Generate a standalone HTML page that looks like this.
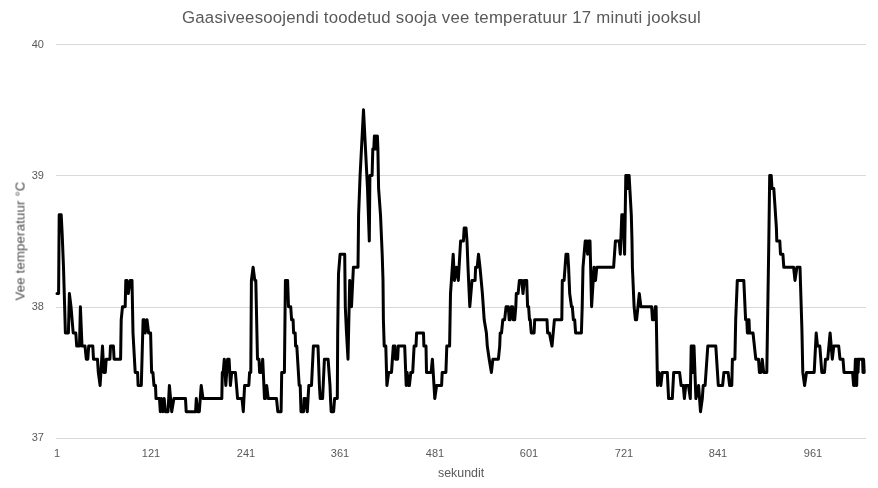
<!DOCTYPE html>
<html><head><meta charset="utf-8"><style>
html,body{margin:0;padding:0;background:#fff;}
body{width:878px;height:488px;overflow:hidden;position:relative;font-family:"Liberation Sans",sans-serif;color:#595959;}
.t{position:absolute;white-space:nowrap;will-change:transform;}
#title{left:182px;top:8px;font-size:16.8px;letter-spacing:0.22px;color:#595959;}
.yl{font-size:11px;line-height:12px;width:30px;text-align:right;left:14.4px;}
.xl{font-size:11px;line-height:12px;width:40px;text-align:center;}
svg{position:absolute;left:0;top:0;}
</style></head><body>
<svg width="878" height="488" viewBox="0 0 878 488">
<g stroke="#d9d9d9" stroke-width="1" shape-rendering="crispEdges">
<line x1="56" y1="44.5" x2="865.5" y2="44.5"/>
<line x1="56" y1="175.5" x2="865.5" y2="175.5"/>
<line x1="56" y1="307.5" x2="865.5" y2="307.5"/>
<line x1="56" y1="438.5" x2="865.5" y2="438.5"/>
</g>
<polyline fill="none" stroke="#000" stroke-width="3" stroke-linejoin="round" stroke-linecap="round" points="57.0,293.6 58.6,293.6 59.2,214.8 61.2,214.8 62.2,234.5 63.5,267.3 65.4,333.0 68.4,333.0 69.4,293.6 71.0,306.7 72.1,319.8 73.2,333.0 75.8,333.0 76.7,346.1 79.5,346.1 80.4,306.7 82.0,346.1 85.0,346.1 86.3,359.2 87.8,359.2 88.7,346.1 92.8,346.1 93.5,359.2 97.5,359.2 98.3,372.4 100.1,385.5 102.5,346.1 103.8,372.4 105.3,372.4 106.2,359.2 109.9,359.2 110.5,346.1 113.4,346.1 114.1,359.2 120.6,359.2 121.2,319.8 122.5,306.7 125.2,306.7 125.8,280.4 127.0,280.4 128.3,293.6 130.2,280.4 132.0,280.4 133.0,333.0 135.2,372.4 137.6,372.4 138.1,385.5 141.3,385.5 143.1,319.8 144.2,319.8 145.2,333.0 147.0,319.8 148.6,333.0 150.6,333.0 151.6,372.4 152.9,372.4 154.0,385.5 155.5,385.5 156.0,398.6 159.5,398.6 160.3,411.7 161.5,398.6 162.8,411.7 164.2,398.6 165.3,411.7 168.0,411.7 169.4,385.5 171.7,411.7 173.9,398.6 185.5,398.6 186.2,411.7 195.6,411.7 196.3,398.6 197.5,411.7 199.3,411.7 201.2,385.5 203.0,398.6 221.8,398.6 222.3,372.4 223.2,372.4 224.3,359.2 225.8,385.5 227.6,359.2 229.1,359.2 230.4,385.5 231.7,372.4 235.4,372.4 237.6,398.6 242.0,398.6 243.3,411.7 244.6,385.5 248.8,385.5 249.6,372.4 250.8,372.4 251.4,280.4 253.1,267.3 254.8,280.4 255.8,280.4 257.5,359.2 259.0,359.2 259.6,372.4 261.2,372.4 262.7,359.2 264.5,398.6 265.4,398.6 266.7,385.5 268.2,398.6 276.5,398.6 277.8,411.7 281.1,411.7 281.7,372.4 284.4,372.4 285.4,280.4 287.6,280.4 288.5,306.7 290.7,306.7 291.6,319.8 293.1,319.8 293.6,333.0 295.2,333.0 295.6,346.1 296.8,346.1 299.2,385.5 300.2,385.5 301.0,411.7 303.6,411.7 304.1,398.6 305.4,398.6 307.3,411.7 308.8,385.5 311.5,385.5 313.4,346.1 318.0,346.1 319.4,385.5 320.2,398.6 322.6,398.6 323.2,385.5 324.4,359.2 328.1,359.2 330.0,385.5 330.5,398.6 331.2,411.7 333.6,411.7 334.6,398.6 337.3,398.6 337.7,333.0 338.5,273.9 340.1,254.2 344.7,254.2 345.3,306.7 346.5,333.0 348.0,359.2 349.7,280.4 351.5,306.7 353.4,267.3 357.6,267.3 358.0,267.3 358.6,214.8 360.1,175.4 363.5,109.8 367.5,188.5 369.3,241.1 369.9,175.4 372.1,175.4 372.8,149.1 373.8,149.1 374.4,136.0 375.2,149.1 376.0,136.0 376.8,149.1 377.4,136.0 377.9,149.1 378.6,188.5 380.5,214.8 382.2,254.2 383.0,280.4 383.4,319.8 384.2,346.1 385.8,346.1 386.9,385.5 388.7,372.4 391.5,372.4 393.3,346.1 395.0,346.1 395.4,359.2 397.6,359.2 398.3,346.1 404.7,346.1 406.2,385.5 407.1,372.4 408.6,385.5 409.4,385.5 410.8,372.4 412.7,372.4 414.1,346.1 416.0,346.1 416.6,333.0 423.5,333.0 423.9,346.1 426.0,346.1 426.5,372.4 431.1,372.4 432.4,359.2 434.8,398.6 436.6,385.5 441.6,385.5 442.2,372.4 445.9,372.4 446.8,346.1 449.6,346.1 450.5,293.6 453.2,254.2 454.4,280.4 456.5,267.3 458.3,280.4 460.6,241.1 463.4,241.1 464.2,227.9 466.0,227.9 467.0,241.1 468.0,267.3 469.8,306.7 472.0,280.4 475.1,280.4 475.6,267.3 477.2,267.3 478.5,254.2 480.0,267.3 481.2,280.4 482.4,293.6 484.2,319.8 486.4,333.0 487.3,346.1 489.2,359.2 491.4,372.4 492.9,359.2 498.4,359.2 499.7,346.1 500.2,333.0 501.5,333.0 502.8,319.8 504.6,319.8 506.1,306.7 508.3,306.7 509.2,319.8 510.1,319.8 511.4,306.7 512.5,306.7 513.3,319.8 514.7,319.8 515.8,306.7 516.3,293.6 518.1,293.6 519.4,280.4 521.8,280.4 523.0,293.6 524.3,280.4 526.7,280.4 527.6,306.7 528.6,306.7 529.5,319.8 530.2,319.8 531.3,333.0 534.1,333.0 534.7,319.8 547.0,319.8 547.6,333.0 549.4,333.0 552.0,346.1 554.4,319.8 561.8,319.8 562.3,280.4 564.1,280.4 566.0,254.2 567.8,254.2 568.6,267.3 569.7,293.6 571.5,306.7 572.3,306.7 573.4,319.8 574.7,319.8 575.6,333.0 581.4,333.0 582.2,306.7 583.0,267.3 585.2,241.1 586.6,241.1 587.6,254.2 588.6,241.1 590.0,241.1 591.6,306.7 594.0,267.3 595.5,280.4 596.8,267.3 613.6,267.3 615.4,241.1 619.2,241.1 620.3,254.2 621.8,214.8 623.0,214.8 624.6,254.2 625.8,175.4 627.0,175.4 627.6,188.5 628.2,175.4 629.1,175.4 631.3,214.8 632.0,241.1 632.4,267.3 634.1,306.7 635.4,319.8 636.6,319.8 639.3,293.6 640.9,306.7 651.6,306.7 652.5,319.8 653.8,319.8 655.3,306.7 656.1,306.7 657.5,385.5 659.0,372.4 660.8,385.5 662.3,372.4 667.3,372.4 668.6,398.6 672.3,398.6 673.7,372.4 679.6,372.4 681.1,385.5 683.3,385.5 684.4,398.6 685.7,385.5 688.5,385.5 690.3,398.6 691.2,346.1 692.2,346.1 692.8,372.4 693.4,346.1 694.0,346.1 695.9,398.6 698.6,385.5 700.5,411.7 702.3,398.6 703.2,385.5 705.1,385.5 707.8,346.1 715.8,346.1 718.3,385.5 722.6,385.5 723.9,372.4 728.1,372.4 729.6,385.5 731.8,385.5 732.4,359.2 734.9,359.2 735.7,319.8 737.3,280.4 743.8,280.4 745.6,319.8 746.8,319.8 747.4,333.0 748.0,319.8 749.0,319.8 749.5,333.0 753.0,333.0 755.8,359.2 758.5,359.2 759.4,372.4 761.0,372.4 762.2,359.2 763.7,372.4 766.8,372.4 767.4,333.0 768.7,248.9 769.7,175.4 771.2,175.4 772.0,188.5 773.8,188.5 776.4,227.9 776.8,241.1 779.8,241.1 780.5,254.2 782.9,254.2 783.8,267.3 793.6,267.3 795.0,280.4 796.9,267.3 800.0,267.3 801.9,329.0 802.8,372.4 804.6,385.5 806.5,372.4 814.2,372.4 816.2,333.0 817.5,346.1 819.8,346.1 820.8,359.2 821.8,372.4 824.5,372.4 825.5,359.2 827.7,359.2 830.1,333.0 832.3,359.2 833.8,346.1 838.7,346.1 840.0,359.2 843.0,359.2 844.0,372.4 852.6,372.4 853.6,385.5 854.4,385.5 855.4,359.2 856.0,385.5 856.7,385.5 857.3,359.2 858.0,372.4 858.6,359.2 862.6,359.2 863.0,372.4 863.6,359.2 864.2,372.4"/>
</svg>
<div class="t" id="title">Gaasiveesoojendi toodetud sooja vee temperatuur 17 minuti jooksul</div>
<div class="t yl" style="top:38px">40</div>
<div class="t yl" style="top:169px">39</div>
<div class="t yl" style="top:300px">38</div>
<div class="t yl" style="top:431px">37</div>
<div class="t xl" style="left:36.5px;top:447px">1</div>
<div class="t xl" style="left:131.0px;top:447px">121</div>
<div class="t xl" style="left:225.5px;top:447px">241</div>
<div class="t xl" style="left:320.0px;top:447px">361</div>
<div class="t xl" style="left:414.5px;top:447px">481</div>
<div class="t xl" style="left:509.0px;top:447px">601</div>
<div class="t xl" style="left:603.5px;top:447px">721</div>
<div class="t xl" style="left:698.0px;top:447px">841</div>
<div class="t xl" style="left:792.5px;top:447px">961</div>
<div class="t" style="left:437.5px;top:466px;font-size:12.4px;">sekundit</div>
<div class="t" style="left:20.1px;top:241.4px;font-size:13.2px;letter-spacing:0.17px;color:#4c4c4c;transform:translate(-50%,-50%) rotate(-90deg);">Vee temperatuur °C</div>
</body></html>
